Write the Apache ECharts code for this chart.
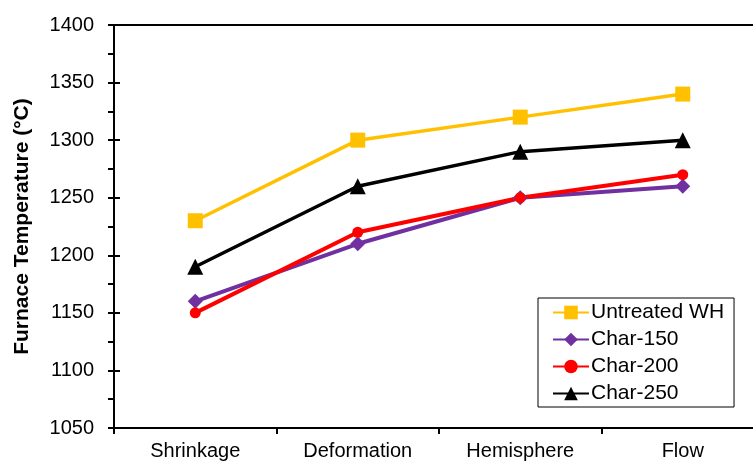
<!DOCTYPE html>
<html>
<head>
<meta charset="utf-8">
<style>
  html, body { margin: 0; padding: 0; background: #fff; }
  #chart { width: 753px; height: 463px; }
</style>
<script src="https://cdn.jsdelivr.net/npm/echarts@6/dist/echarts.min.js"></script>
</head>
<body>
<div id="chart"></div>
<script>
// Ash fusion stages
const stages = ['Shrinkage', 'Deformation', 'Hemisphere', 'Flow'];

// Furnace temperature (°C) at each stage
const untreatedWH = [1230, 1300, 1320, 1340];
const char150 = [1160, 1210, 1250, 1260];
const char200 = [1150, 1220, 1250, 1270];
const char250 = [1190, 1260, 1290, 1300];

const yMin = 1050, yMax = 1400, yStep = 50;

const FONT = '"Liberation Sans", Arial, sans-serif';

const chart = echarts.init(document.getElementById('chart'));

function lineSeries(name, data, color, symbol, size, width) {
  return {
    name: name,
    type: 'line',
    data: data,
    symbol: symbol,
    symbolSize: size,
    lineStyle: { color: color, width: width },
    itemStyle: { color: color },
    emphasis: { disabled: true },
    animation: false
  };
}

chart.setOption({
  animation: false,
  grid: {
    left: 114, top: 25, width: 650, bottom: 35,
    containLabel: false,
    outerBoundsMode: 'none',
    show: true, borderColor: '#000', borderWidth: 2, backgroundColor: 'transparent'
  },
  legend: {
    orient: 'vertical',
    left: 538, top: 298,
    borderColor: '#000', borderWidth: 1,
    padding: [4, 10, 3, 14],
    itemGap: 6,
    itemWidth: 36, itemHeight: 17,
    textStyle: { fontFamily: FONT, fontSize: 21, color: '#000', padding: [0, 0, 0, -3] },
    data: ['Untreated WH', 'Char-150', 'Char-200', 'Char-250']
  },
  xAxis: {
    type: 'category',
    data: stages,
    boundaryGap: true,
    axisLine: { lineStyle: { color: '#000', width: 2 } },
    axisTick: { show: true, length: 6, lineStyle: { color: '#000', width: 2 } },
    axisLabel: { fontFamily: FONT, fontSize: 20, color: '#000', margin: 13 }
  },
  yAxis: [
    {
      type: 'value',
      min: yMin, max: yMax, interval: yStep,
      name: 'Furnace Temperature (°C)',
      nameLocation: 'middle',
      nameGap: 81,
      nameTextStyle: { fontFamily: FONT, fontSize: 21, fontWeight: 'bold', color: '#000' },
      axisLine: { show: true, lineStyle: { color: '#000', width: 2 } },
      axisTick: { show: true, length: 6, lineStyle: { color: '#000', width: 2 } },
      minorTick: { show: true, splitNumber: 2, length: 6, lineStyle: { color: '#000', width: 2 } },
      splitLine: { show: false },
      axisLabel: {
        fontFamily: FONT, fontSize: 20, color: '#000', margin: 20,
        formatter: function (v) { return String(v); }
      }
    },
    {
      // inner half of the major ticks
      type: 'value',
      position: 'left',
      min: yMin, max: yMax, interval: yStep,
      axisLine: { show: false },
      axisTick: { show: true, inside: true, length: 6, lineStyle: { color: '#000', width: 2 } },
      axisLabel: { show: false },
      splitLine: { show: false }
    }
  ],
  series: [
    lineSeries('Untreated WH', untreatedWH, '#FFC000', 'rect', 15, 3.5),
    lineSeries('Char-150', char150, '#7030A0', 'diamond', 15, 4),
    lineSeries('Char-200', char200, '#FF0000', 'circle', 11, 4),
    lineSeries('Char-250', char250, '#000000', 'triangle', 16, 3.5)
  ]
});
</script>
</body>
</html>
